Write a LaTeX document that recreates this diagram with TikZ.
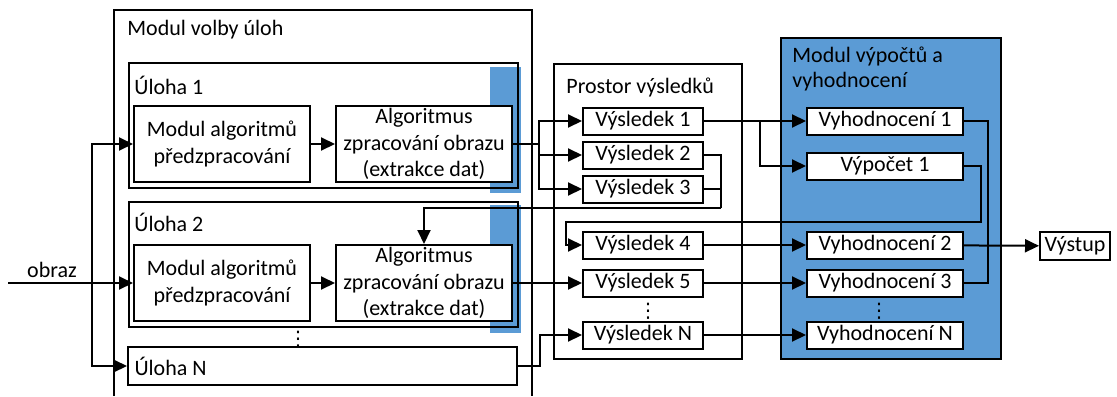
\documentclass[tikz,border=0pt]{standalone}
\usepackage{fontspec}
\setmainfont{Carlito}
\newfontfamily\symfont{DejaVu Sans}
\usetikzlibrary{arrows.meta}
\definecolor{accent}{HTML}{5B9BD5}

\begin{document}
\begin{tikzpicture}
	[x=0.5pt, y=-0.5pt,
	font=\fontsize{11}{13.4}\selectfont,
	box/.style ={rectangle, draw=black, line width=1pt, fill=white, align=center, inner sep=0pt},
	algbox/.style ={box, minimum width=88pt, minimum height=38pt},
	resbox/.style ={box, minimum width=60pt, minimum height=13.5pt},
	evalbox/.style ={box, minimum width=78pt, minimum height=13.5pt},
	panel/.style ={rectangle, draw=black, line width=1pt, anchor=north west, inner sep=0pt},
	title/.style ={anchor=west, inner sep=0pt},
	vdot/.style ={inner sep=0pt, font=\symfont\fontsize{10}{10}\selectfont},
	wire/.style ={draw, line width=1pt},
	line/.style ={draw, line width=1pt, -{Triangle[length=7pt,width=6.5pt]}}]
	\useasboundingbox (0,0) rectangle (1117,396);
	% modul volby uloh (cut at the bottom)
	\draw[wire] (114,396) |- (532,10) -- (532,396);
	\draw (127,30) node[title] (volbyt) {Modul volby úloh};
	\fill[accent] (490,67) rectangle (521,193);
	\fill[accent] (490,205) rectangle (521,333);
	\draw (128,62) node[panel, minimum width=194.5pt, minimum height=62.5pt] (uloha1) {};
	\draw (128,201) node[panel, minimum width=194.5pt, minimum height=62.5pt] (uloha2) {};
	\draw (134,85) node[title] (uloha1t) {Úloha 1};
	\draw (134,222) node[title] (uloha2t) {Úloha 2};
	\draw (222,144) node[algbox] (modul1) {Modul algoritmů\\předzpracování};
	\draw (424,144) node[algbox] (alg1) {Algoritmus\\zpracování obrazu\\(extrakce dat)};
	\draw (222,283) node[algbox] (modul2) {Modul algoritmů\\předzpracování};
	\draw (424,283) node[algbox] (alg2) {Algoritmus\\zpracování obrazu\\(extrakce dat)};
	\draw (298,339) node[vdot] (dots1) {⋮};
	\draw (322.5,366) node[box, minimum width=194.5pt, minimum height=19pt, text width=188pt, align=flush left] (ulohaN) {Úloha N};
	% prostor vysledku
	\draw (553,63) node[panel, minimum width=94pt, minimum height=147.5pt] (prostor) {};
	\draw (566,87) node[title] (prostort) {Prostor výsledků};
	\draw (643,121) node[resbox] (vys1) {Výsledek 1};
	\draw (643,155) node[resbox] (vys2) {Výsledek 2};
	\draw (643,189) node[resbox] (vys3) {Výsledek 3};
	\draw (643,245) node[resbox] (vys4) {Výsledek 4};
	\draw (643,283) node[resbox] (vys5) {Výsledek 5};
	\draw (648,311) node[vdot] (dots2) {⋮};
	\draw (643,335) node[resbox] (vysN) {Výsledek N};
	% modul vypoctu a vyhodnoceni
	\draw (780,37) node[panel, fill=accent, minimum width=110pt, minimum height=160.5pt] (vypmod) {};
	\draw (792,47) node[anchor=north west, inner sep=0pt, align=left, font=\fontsize{11}{12.5}\selectfont] (vypmodt) {Modul výpočtů a\\vyhodnocení};
	\draw (885,121) node[evalbox] (vyh1) {Vyhodnocení 1};
	\draw (885,166) node[evalbox] (vyp1) {Výpočet 1};
	\draw (885,245) node[evalbox] (vyh2) {Vyhodnocení 2};
	\draw (885,283) node[evalbox] (vyh3) {Vyhodnocení 3};
	\draw (879,311) node[vdot] (dots3) {⋮};
	\draw (885,335) node[evalbox] (vyhN) {Vyhodnocení N};
	\draw (1075,246) node[box, minimum width=35pt, minimum height=14pt] (vystup) {Výstup};
	% vstup
	\coordinate (in) at (8,283);
	\coordinate (split) at (92,283);
	\draw (52,270) node[inner sep=0pt] (obraz) {obraz};
	\draw[line] (in) -- (modul2);
	\draw[line] (split) |- (modul1);
	\draw[line] (split) |- (ulohaN);
	\draw[line] (modul1) -- (alg1);
	\draw[line] (modul2) -- (alg2);
	% do prostoru vysledku
	\coordinate (s1) at (539,144);
	\draw[wire] (alg1.east) -- (s1);
	\draw[line] (s1) |- (vys1);
	\draw[line] (s1) |- (vys2);
	\draw[line] (s1) |- (vys3);
	\draw[line] (alg2) -- (vys5);
	\draw[line] (ulohaN.east) -- ++(22,0) |- (vysN);
	\coordinate (fb) at (721,208);
	\draw[wire] (vys2.east) -| (fb);
	\draw[wire] (vys3.east) -| (fb);
	\draw[line] (fb) -| (alg2.north);
	% vyhodnoceni
	\coordinate (b1) at (760,121);
	\draw[line] (vys1) -- (vyh1);
	\draw[line] (b1) |- (vyp1);
	\draw[line] (vys4) -- (vyh2);
	\draw[line] (vys5) -- (vyh3);
	\draw[line] (vysN) -- (vyhN);
	\coordinate (c1) at (981,222);
	\coordinate (c2) at (566,245);
	\draw[line] (vyp1.east) -| (c1) -| (c2) -- (vys4);
	\draw[wire] (vyh1.east) -| (988,283) -- (vyh3.east);
	\draw[line] (vyh2) -- (vystup);
\end{tikzpicture}
\end{document}
